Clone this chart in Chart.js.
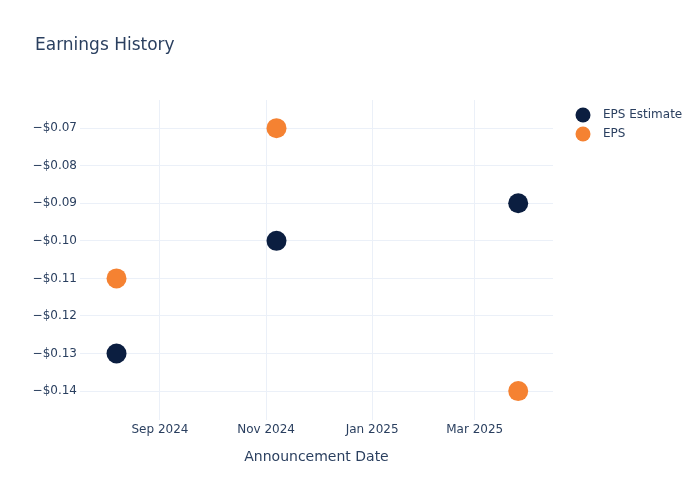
<!DOCTYPE html>
<html>
<head>
<meta charset="utf-8">
<title>Earnings History</title>
<script src="https://cdn.jsdelivr.net/npm/chart.js@4/dist/chart.umd.min.js"></script>
<style>
  html, body { margin: 0; padding: 0; background: #fff; }
  #wrap { width: 700px; height: 500px; position: relative; }
</style>
</head>
<body>
<div id="wrap"><canvas id="earningsChart"></canvas></div>
<script>
// Earnings history — estimate vs reported EPS
(function () {
    'use strict';

    // Data
    const announceDates = ['2024-08-07', '2024-11-07', '2025-03-26'];
    const epsEstimate = [-0.13, -0.10, -0.09];
    const epsActual = [-0.11, -0.07, -0.14];

    // Axis ticks
    const monthTicks = ['2024-09-01', '2024-11-01', '2025-01-01', '2025-03-01'];
    const epsTicks = [-0.14, -0.13, -0.12, -0.11, -0.10, -0.09, -0.08, -0.07];
    const xRange = ['2024-07-17', '2025-04-15'];
    const yRange = [-0.1477, -0.0625];

    // Colors
    const NAVY = '#0b1e40';
    const ORANGE = '#f58232';
    const TEXT = '#2a3f5f';
    const GRID = '#ebf0f8';
    const fontFamily = '"DejaVu Sans", "Open Sans", sans-serif';
    const MONTHS = ['Jan', 'Feb', 'Mar', 'Apr', 'May', 'Jun', 'Jul', 'Aug', 'Sep', 'Oct', 'Nov', 'Dec'];

    const toMs = s => Date.parse(s + 'T00:00:00Z');
    const toPoints = vals => vals.map((v, i) => ({ x: toMs(announceDates[i]), y: v }));

    function fmtMoney(v) {
        const s = '$' + Math.abs(v).toFixed(2);
        return v < 0 ? '\u2212' + s : s;
    }

    function fmtMonth(ms) {
        const d = new Date(ms);
        return MONTHS[d.getUTCMonth()] + ' ' + d.getUTCFullYear();
    }

    const series = [
        { label: 'EPS Estimate', data: epsEstimate, color: NAVY },
        { label: 'EPS', data: epsActual, color: ORANGE },
    ];

    // title, legend and axis title drawn by hand so they sit where plotly put them
    const decorations = {
        id: 'decorations',
        afterDraw(chart) {
            const ctx = chart.ctx;
            const area = chart.chartArea;
            ctx.save();
            ctx.fillStyle = TEXT;
            ctx.textBaseline = 'middle';

            ctx.font = '17px ' + fontFamily;
            ctx.textAlign = 'left';
            ctx.fillText('Earnings History', 35, 45.5);

            ctx.font = '14px ' + fontFamily;
            ctx.textAlign = 'center';
            ctx.fillText('Announcement Date', (area.left + area.right) / 2, 457);

            ctx.font = '12px ' + fontFamily;
            ctx.textAlign = 'left';
            series.forEach((s, i) => {
                const y = 115 + i * 19;
                ctx.beginPath();
                ctx.arc(583, y, 7.5, 0, Math.PI * 2);
                ctx.fillStyle = s.color;
                ctx.fill();
                ctx.fillStyle = TEXT;
                ctx.fillText(s.label, 603, y);
            });
            ctx.restore();
        },
    };

    new Chart(document.getElementById('earningsChart'), {
        type: 'scatter',
        data: {
            datasets: series.map(s => ({
                label: s.label,
                data: toPoints(s.data),
                backgroundColor: s.color,
                borderColor: s.color,
                borderWidth: 0,
                pointRadius: 10,
                pointHoverRadius: 10,
            })),
        },
        options: {
            responsive: true,
            maintainAspectRatio: false,
            animation: false,
            layout: { padding: { top: 100, right: 147, bottom: 0, left: 0 } },
            plugins: {
                legend: { display: false },
                title: { display: false },
                tooltip: { enabled: false },
            },
            scales: {
                x: {
                    type: 'linear',
                    min: toMs(xRange[0]),
                    max: toMs(xRange[1]),
                    afterBuildTicks: scale => { scale.ticks = monthTicks.map(d => ({ value: toMs(d) })); },
                    afterFit: scale => { scale.height = 80; },
                    border: { display: false },
                    grid: { color: GRID, drawTicks: false },
                    ticks: {
                        color: TEXT,
                        padding: 3,
                        maxRotation: 0,
                        autoSkip: false,
                        font: { family: fontFamily, size: 12 },
                        callback: v => fmtMonth(v),
                    },
                },
                y: {
                    min: yRange[0],
                    max: yRange[1],
                    afterBuildTicks: scale => { scale.ticks = epsTicks.map(v => ({ value: v })); },
                    afterFit: scale => { scale.width = 80; },
                    border: { display: false },
                    grid: { color: GRID, drawTicks: false },
                    ticks: {
                        color: TEXT,
                        padding: 3,
                        autoSkip: false,
                        font: { family: fontFamily, size: 12 },
                        callback: v => fmtMoney(v),
                    },
                },
            },
        },
        plugins: [decorations],
    });
})();
</script>
</body>
</html>
